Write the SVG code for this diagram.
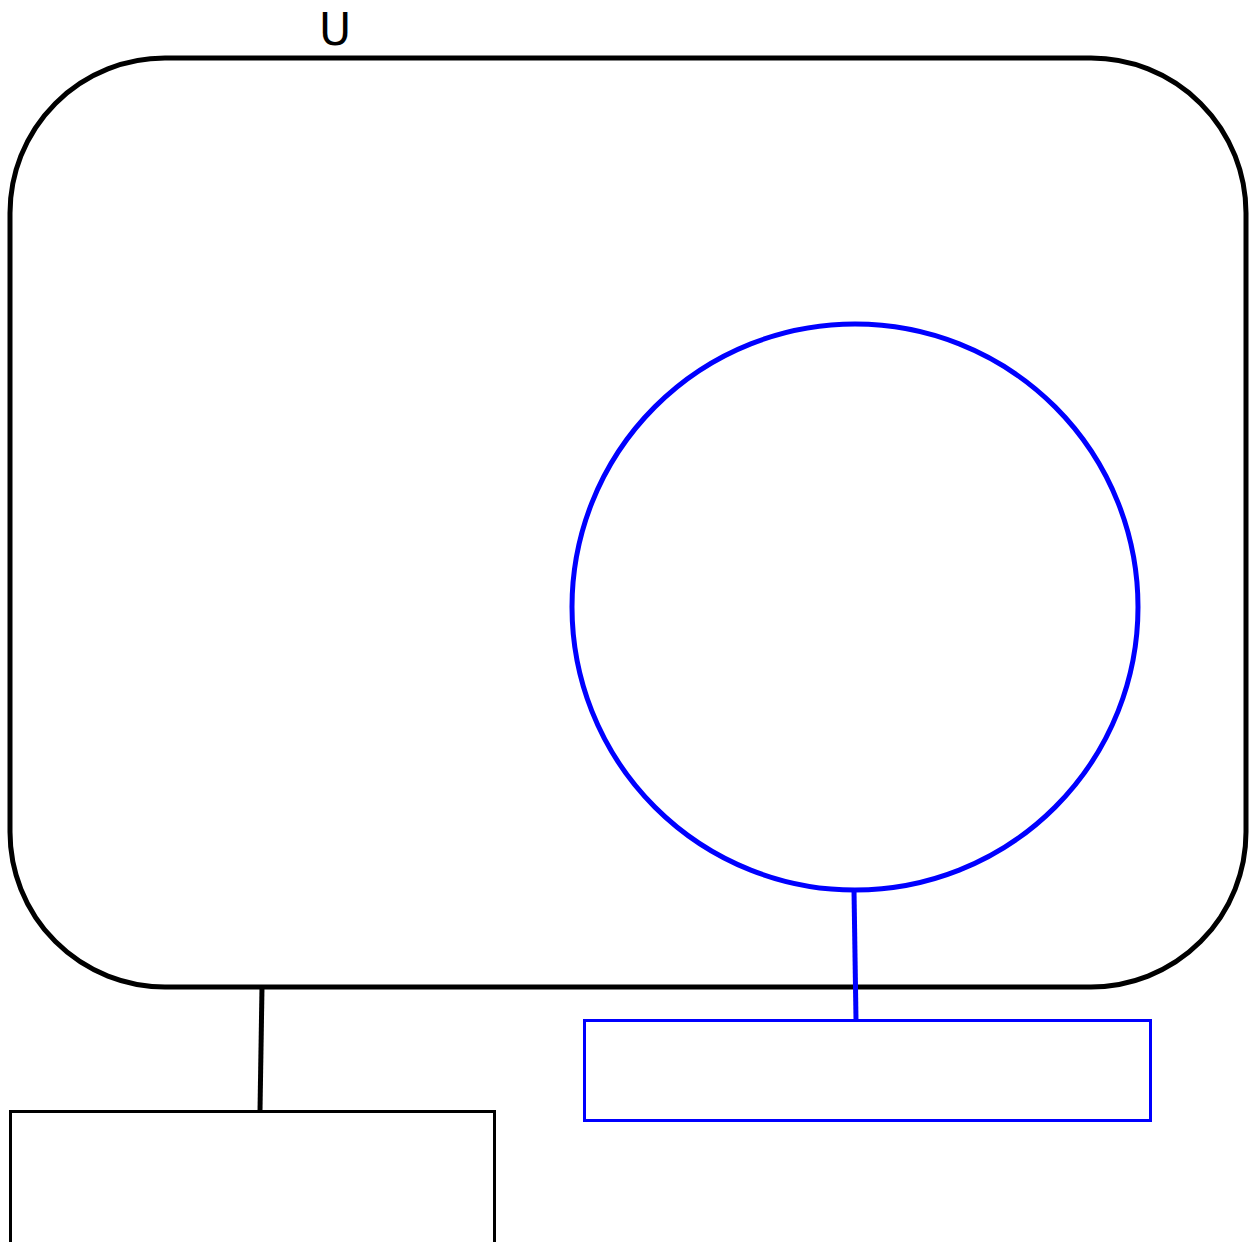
<svg xmlns="http://www.w3.org/2000/svg" width="1254" height="1242" viewBox="0 0 1254 1242">
<style>
.blk{fill:none;stroke:#000}
.blu{fill:none;stroke:#0000ff}
.lbl{font-family:"DejaVu Sans",sans-serif;font-size:44px;fill:#000;text-anchor:middle}
</style>
<rect x="0" y="0" width="1254" height="1242" fill="#fff"/>
<g id="node-U">
<rect class="blk" x="10" y="58" width="1236" height="929" rx="155" ry="155" stroke-width="5"/>
<text class="lbl" x="335" y="45">U</text>
</g>
<g id="node-circle">
<circle class="blu" cx="855" cy="607" r="283" stroke-width="5"/>
</g>
<g id="node-bluebox">
<rect class="blu" x="584.5" y="1020.5" width="566" height="100" stroke-width="3"/>
</g>
<g id="node-blackbox">
<rect class="blk" x="10.5" y="1111.5" width="484" height="200" stroke-width="3"/>
</g>
<g id="connectors">
<line class="blk" x1="262" y1="987" x2="260" y2="1111" stroke-width="5"/>
<line class="blu" x1="854" y1="890" x2="856" y2="1020" stroke-width="5"/>
</g>
</svg>
